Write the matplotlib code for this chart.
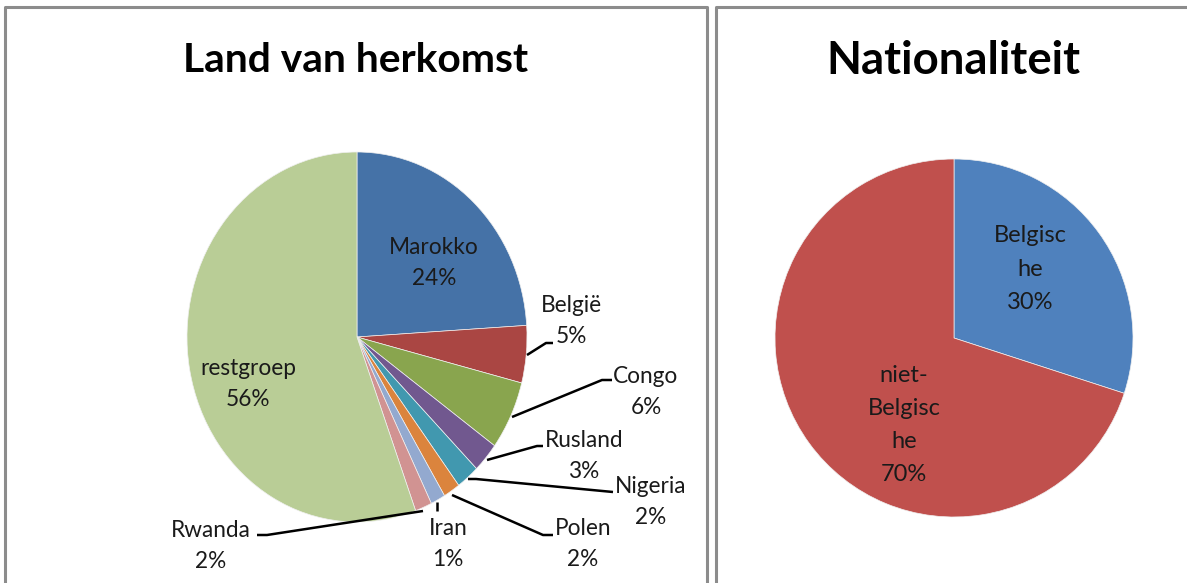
import matplotlib
matplotlib.use("Agg")
import matplotlib.pyplot as plt

plt.rcParams['font.family'] = ['Lato', 'DejaVu Sans']

# data
herkomst_labels = ['Marokko', 'België', 'Congo', 'Rusland', 'Nigeria',
                   'Polen', 'Iran', 'Rwanda', 'restgroep']
herkomst_values = [24.0, 5.0, 6.0, 2.6, 2.2, 1.6, 1.4, 1.6, 55.6]
herkomst_colors = ['#4572A7', '#AA4643', '#89A54E', '#71588F', '#4198AF',
                   '#DB843D', '#93A9CF', '#D19392', '#B9CD96']

nat_labels = ['Belgisc\nhe', 'niet-\nBelgisc\nhe']
nat_values = [30, 70]
nat_colors = ['#4F81BD', '#C0504D']

W, H = 1187, 583
fig = plt.figure(figsize=(W / 100, H / 100), dpi=100)

def add_px_axes(cx, cy, rx, ry):
    ax = fig.add_axes([(cx - rx) / W, (H - cy - ry) / H, 2 * rx / W, 2 * ry / H])
    return ax

# left pie (slightly squeezed like the original picture)
ax1 = add_px_axes(357, 337, 170, 185)
ax1.pie(herkomst_values, colors=herkomst_colors, startangle=90, counterclock=False,
        wedgeprops=dict(linewidth=0.5, edgecolor='#f0f0f0'))
ax1.set_aspect('auto')
ax1.set_xlim(-1, 1)
ax1.set_ylim(-1, 1)

# right pie
ax2 = add_px_axes(954, 338, 179, 179)
ax2.pie(nat_values, colors=nat_colors, startangle=90, counterclock=False,
        wedgeprops=dict(linewidth=0.5, edgecolor='#f0f0f0'))
ax2.set_aspect('auto')
ax2.set_xlim(-1, 1)
ax2.set_ylim(-1, 1)

# overlay in pixel coordinates for texts, leader lines and frames
ov = fig.add_axes([0, 0, 1, 1], zorder=5)
ov.set_xlim(0, W)
ov.set_ylim(H, 0)
ov.axis('off')
ov.patch.set_alpha(0)

border = '#8c8c8c'
ov.plot([5, 5, 707, 707], [600, 7, 7, 600], color=border, lw=2.2, clip_on=False)
ov.plot([716, 716, 1200], [600, 7, 7], color=border, lw=2.2, clip_on=False)

ov.text(356, 61, 'Land van herkomst', ha='center', va='center',
        fontsize=29.3, fontweight='bold', color='black')
ov.text(953, 61, 'Nationaliteit', ha='center', va='center',
        fontsize=32.8, fontweight='bold', color='black')

txt = '#1a1a1a'
lab_fs = 16.3

def pct(v):
    return f"{v:.0f}%"

# label positions (pixel) for the left pie
left_pos = {
    'Marokko': (434, 263),
    'België': (571, 321),
    'Congo': (646, 392),
    'Rusland': (584, 456),
    'Nigeria': (651, 502),
    'Polen': (583, 544),
    'Iran': (448, 544),
    'Rwanda': (211, 546),
    'restgroep': (248, 384),
}
for name, v in zip(herkomst_labels, herkomst_values):
    x, y = left_pos[name]
    ov.text(x, y, f"{name}\n{pct(v)}", ha='center', va='center',
            fontsize=lab_fs, color=txt, linespacing=1.55)

leaders = [
    ([527, 546, 553], [355, 343, 343]),
    ([512, 602, 612], [417, 380, 380]),
    ([487, 537, 543], [460, 446, 446]),
    ([468, 476, 613], [479, 479, 492]),
    ([452, 543, 553], [495, 535, 535]),
    ([437, 437], [502, 511]),
    ([423, 267, 257], [511, 535, 535]),
]
for xs, ys in leaders:
    ov.plot(xs, ys, color='black', lw=1.8, solid_capstyle='butt')

right_pos = [(1030, 269), (904, 425)]
for lab, v, (x, y) in zip(nat_labels, nat_values, right_pos):
    ov.text(x, y, f"{lab}\n{pct(v)}", ha='center', va='center',
            fontsize=17, color=txt, linespacing=1.72)

fig.savefig('out.png', dpi=100)
